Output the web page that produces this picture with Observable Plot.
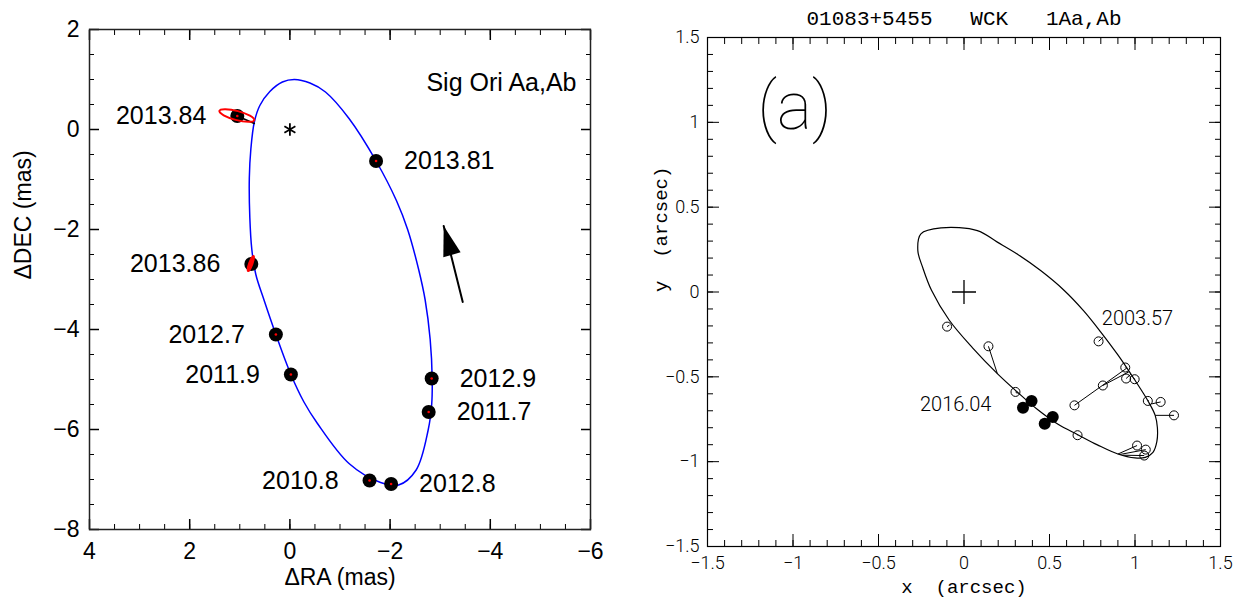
<!DOCTYPE html>
<html><head><meta charset="utf-8">
<script src="https://cdn.jsdelivr.net/npm/d3@7"></script>
<script src="https://cdn.jsdelivr.net/npm/@observablehq/plot@0.6"></script>
<style>
body{margin:0;background:#fff;}
#wrap{position:relative;width:1248px;height:598px;overflow:hidden;background:#fff;}
#left{position:absolute;left:0;top:0;}
#right{position:absolute;left:624px;top:0;}
</style></head><body>
<div id="wrap"><div id="left"></div><div id="right"></div></div>
<script>
// ---------- Left panel data: Sig Ori Aa,Ab ----------
const sigEpochs = ["2013.84","2013.81","2013.86","2012.7","2011.9","2012.9","2011.7","2010.8","2012.8"];
const sigRA  = [1.05, -1.72, 0.77, 0.28, -0.02, -2.83, -2.77, -1.59, -2.02];
const sigDEC = [0.27, -0.63, -2.69, -4.10, -4.90, -4.98, -5.65, -7.02, -7.09];
const sigLabelSide = ["left","right","left","left","left","right","right","left","right"];
const sigOrbitRA  = [-0.09,-0.40,-0.71,-1.18,-1.72,-2.13,-2.35,-2.57,-2.70,-2.80,-2.84,-2.83,-2.76,-2.52,-2.17,-1.81,-1.18,-0.55,-0.28,-0.02,0.28,0.52,0.68,0.76,0.80,0.81,0.78,0.71,0.60,0.40,0.15];
const sigOrbitDEC = [1.00,0.93,0.75,0.22,-0.63,-1.43,-2.00,-2.80,-3.41,-4.20,-4.98,-5.50,-6.01,-6.81,-7.11,-7.06,-6.68,-5.88,-5.45,-4.90,-4.10,-3.40,-2.90,-2.40,-1.76,-0.97,-0.40,0.15,0.48,0.76,0.95];
const sigResidRA  = [1.05, 0.71];
const sigResidDEC = [0.27, 0.12];
const arrowRA  = [-3.45, -3.07];
const arrowDEC = [-3.45, -1.93];
const sigXTicks = [4, 2, 0, -2, -4, -6];
const sigYTicks = [2, 0, -2, -4, -6, -8];
const sigXMinor = d3.range(4, -6.01, -0.5);
const sigYMinor = d3.range(-8, 2.01, 0.5);
const sigTitle = "Sig Ori Aa,Ab";

// error ellipses (index into sigEpochs, semi-axes px, rotation deg) – style only
const sigErr = [
  {i: 0, rx: 18, ry: 4.5, rot: 15, fill: "none"},
  {i: 2, rx: 1.6, ry: 8, rot: 20, fill: "red"}
];

// ---------- Right panel data: 01083+5455 WCK 1Aa,Ab ----------
const wckOrbitX = [-0.134,-0.252,-0.270,-0.240,-0.190,-0.087,0.050,0.195,0.310,0.430,0.550,0.665,0.780,0.900,1.000,1.060,1.105,1.128,1.131,1.118,1.077,0.995,0.900,0.800,0.700,0.580,0.450,0.313,0.195,0.078];
const wckOrbitY = [0.378,0.343,0.244,0.140,0.010,-0.165,-0.329,-0.481,-0.588,-0.693,-0.780,-0.841,-0.901,-0.955,-0.978,-0.975,-0.945,-0.880,-0.800,-0.727,-0.644,-0.513,-0.371,-0.236,-0.111,0.015,0.125,0.223,0.294,0.362];
const wckObsX  = [-0.099,0.143,0.301,0.664,0.646,0.812,0.943,0.948,0.998,0.787,1.075,1.150,1.228,1.012,1.063,1.054];
const wckObsY  = [-0.204,-0.320,-0.589,-0.844,-0.668,-0.551,-0.445,-0.510,-0.514,-0.291,-0.642,-0.648,-0.727,-0.905,-0.929,-0.964];
const wckPredX = [-0.085,0.195,0.312,0.664,0.950,0.965,0.950,0.975,0.990,0.815,1.080,1.095,1.118,0.900,0.910,0.930];
const wckPredY = [-0.195,-0.481,-0.598,-0.838,-0.450,-0.470,-0.452,-0.485,-0.505,-0.265,-0.640,-0.660,-0.727,-0.955,-0.958,-0.962];
const wckNewX = [0.345,0.395,0.472,0.519];
const wckNewY = [-0.682,-0.642,-0.777,-0.737];
const wckNotes = ["2003.57","2016.04"];
const wckNoteX = [0.806, 0.160];
const wckNoteY = [-0.158, -0.664];
const wckNoteAnchor = ["start","end"];
const wckTicks = [-1.5,-1,-0.5,0,0.5,1,1.5];
const wckMinor = d3.range(-15, 15.1, 1).map(v => v / 10);
const wckTitle = "01083+5455   WCK   1Aa,Ab";
const wckPanel = "(a)";

// ---------- helpers ----------
const FONT_L = "'Liberation Sans',Arial,sans-serif";
const FONT_MONO = "'Liberation Mono','Courier New',monospace";
const FONT_THIN = "Roboto,'DejaVu Sans',sans-serif";
const fmt = d3.format("~g");

const thinPlus = {draw(ctx, size){const r=Math.sqrt(size/Math.PI); ctx.moveTo(-r,0); ctx.lineTo(r,0); ctx.moveTo(0,-r); ctx.lineTo(0,r);}};
const headTri = {draw(ctx, size){const r=Math.sqrt(size/Math.PI); ctx.moveTo(0,0); ctx.lineTo(-0.3*r,r); ctx.lineTo(0.3*r,r); ctx.closePath();}};

const sigPts = sigEpochs.map((e,i)=>({e, ra: sigRA[i], dec: sigDEC[i], side: sigLabelSide[i]}));

function errMark(index, scales) {
  const g = d3.create("svg:g");
  for (const d of sigErr) {
    g.append("ellipse")
      .attr("transform", `translate(${scales.x(sigRA[d.i])},${scales.y(sigDEC[d.i])}) rotate(${d.rot})`)
      .attr("rx", d.rx).attr("ry", d.ry)
      .attr("fill", d.fill).attr("stroke", "red").attr("stroke-width", 2);
  }
  return g.node();
}

const left = Plot.plot({
  width: 624, height: 598,
  marginLeft: 89, marginRight: 34, marginTop: 29, marginBottom: 69,
  x: {domain: [4, -6]}, y: {domain: [-8, 2]},
  style: {fontFamily: FONT_L, fontSize: "22px", color: "black", background: "white"},
  marks: [
    Plot.axisX(sigXMinor, {anchor: "bottom", tickSize: -5, tickFormat: () => "", label: null}),
    Plot.axisX(sigXMinor, {anchor: "top", tickSize: -5, tickFormat: () => "", label: null}),
    Plot.axisY(sigYMinor, {anchor: "left", tickSize: -5, tickFormat: () => "", label: null}),
    Plot.axisY(sigYMinor, {anchor: "right", tickSize: -5, tickFormat: () => "", label: null}),
    Plot.axisX(sigXTicks, {anchor: "bottom", tickSize: -10, tickPadding: 23, tickFormat: fmt, label: null, fontSize: 23, strokeWidth: 1.5}),
    Plot.axisX(sigXTicks, {anchor: "top", tickSize: -10, tickFormat: () => "", label: null, strokeWidth: 1.5}),
    Plot.axisY(sigYTicks, {anchor: "left", tickSize: -10, tickPadding: 20, tickFormat: fmt, label: null, fontSize: 23, strokeWidth: 1.5}),
    Plot.axisY(sigYTicks, {anchor: "right", tickSize: -10, tickFormat: () => "", label: null, strokeWidth: 1.5}),
    Plot.frame({stroke: "#222", strokeWidth: 1.5}),
    Plot.line(sigOrbitRA.map((r,i)=>[r, sigOrbitDEC[i]]), {x: d=>d[0], y: d=>d[1], curve: "catmull-rom-closed", stroke: "#0000ff", strokeWidth: 1.5}),
    Plot.line(sigResidRA.map((r,i)=>[r, sigResidDEC[i]]), {x: d=>d[0], y: d=>d[1], stroke: "black", strokeWidth: 1.5}),
    Plot.dot(sigPts, {x: "ra", y: "dec", r: 7, fill: "black"}),
    Plot.dot(sigPts, {x: "ra", y: "dec", r: 1.3, fill: "red"}),
    errMark,
    Plot.dot([[0,0]], {x: d=>d[0], y: d=>d[1], symbol: "asterisk", r: 6, stroke: "black", strokeWidth: 1.8}),
    Plot.text(sigPts.filter(d => d.side === "left"), {x: "ra", y: "dec", text: "e", dx: -31, textAnchor: "end", fontSize: 25}),
    Plot.text(sigPts.filter(d => d.side === "right"), {x: "ra", y: "dec", text: "e", dx: 28, textAnchor: "start", fontSize: 25}),
    Plot.line(arrowRA.map((r,i)=>[r, arrowDEC[i]]), {x: d=>d[0], y: d=>d[1], stroke: "black", strokeWidth: 2}),
    Plot.dot([[arrowRA[1], arrowDEC[1]]], {x: d=>d[0], y: d=>d[1], symbol: headTri, r: 30, fill: "black", rotate: -16}),
    Plot.text([sigTitle], {text: d=>d, frameAnchor: "top-right", dx: -14, dy: 44, textAnchor: "end", fontSize: 25}),
    Plot.text(["ΔRA (mas)"], {text: d=>d, frameAnchor: "bottom", dy: 55, fontSize: 23}),
    Plot.text(["ΔDEC (mas)"], {text: d=>d, frameAnchor: "left", dx: -66, rotate: -90, fontSize: 23})
  ]
});
document.getElementById("left").appendChild(left);

const wckRes = wckObsX.map((x,i)=>({x1: x, y1: wckObsY[i], x2: wckPredX[i], y2: wckPredY[i]}));
const wckNoteRows = wckNotes.map((t,i)=>({t, x: wckNoteX[i], y: wckNoteY[i], a: wckNoteAnchor[i]}));
const right = Plot.plot({
  width: 624, height: 598,
  marginLeft: 83, marginRight: 28, marginTop: 37, marginBottom: 52,
  x: {domain: [-1.5, 1.5]}, y: {domain: [-1.5, 1.5]},
  style: {fontFamily: FONT_THIN, fontSize: "18px", color: "black", background: "white"},
  marks: [
    Plot.axisX(wckMinor, {anchor: "bottom", tickSize: -6, tickFormat: () => "", label: null}),
    Plot.axisX(wckMinor, {anchor: "top", tickSize: -6, tickFormat: () => "", label: null}),
    Plot.axisY(wckMinor, {anchor: "left", tickSize: -6, tickFormat: () => "", label: null}),
    Plot.axisY(wckMinor, {anchor: "right", tickSize: -6, tickFormat: () => "", label: null}),
    Plot.axisX(wckTicks, {anchor: "bottom", tickSize: -12, tickPadding: 22, tickFormat: fmt, label: null, fontSize: 18, fontWeight: 300}),
    Plot.axisX(wckTicks, {anchor: "top", tickSize: -12, tickFormat: () => "", label: null}),
    Plot.axisY(wckTicks, {anchor: "left", tickSize: -12, tickPadding: 20, tickFormat: fmt, label: null, fontSize: 18, fontWeight: 300}),
    Plot.axisY(wckTicks, {anchor: "right", tickSize: -12, tickFormat: () => "", label: null}),
    Plot.frame({stroke: "black", strokeWidth: 1.2}),
    Plot.line(wckOrbitX.map((x,i)=>[x, wckOrbitY[i]]), {x: d=>d[0], y: d=>d[1], curve: "catmull-rom-closed", stroke: "black", strokeWidth: 1.2}),
    Plot.link(wckRes, {x1: "x1", y1: "y1", x2: "x2", y2: "y2", stroke: "black", strokeWidth: 1}),
    Plot.dot(wckObsX.map((x,i)=>[x, wckObsY[i]]), {x: d=>d[0], y: d=>d[1], r: 4.5, stroke: "black", strokeWidth: 1, fill: "none"}),
    Plot.dot(wckNewX.map((x,i)=>[x, wckNewY[i]]), {x: d=>d[0], y: d=>d[1], r: 6, fill: "black"}),
    Plot.dot([[0,0]], {x: d=>d[0], y: d=>d[1], symbol: thinPlus, r: 12, stroke: "black", strokeWidth: 1.3}),
    Plot.text(wckNoteRows.filter(d => d.a === "start"), {x: "x", y: "y", text: "t", textAnchor: "start", fontSize: 20, fontWeight: 300}),
    Plot.text(wckNoteRows.filter(d => d.a === "end"), {x: "x", y: "y", text: "t", textAnchor: "end", fontSize: 20, fontWeight: 300}),
    Plot.text([wckPanel], {text: d=>d, frameAnchor: "top-left", dx: 50, dy: 45, textAnchor: "start", fontSize: 66, fontWeight: 100}),
    Plot.text([wckTitle], {text: d=>d, frameAnchor: "top", dy: -27, fontFamily: FONT_MONO, fontSize: 21}),
    Plot.text(["x  (arcsec)"], {text: d=>d, frameAnchor: "bottom", dy: 46, fontFamily: FONT_MONO, fontSize: 19}),
    Plot.text(["y  (arcsec)"], {text: d=>d, frameAnchor: "left", dx: -47, rotate: -90, fontFamily: FONT_MONO, fontSize: 19})
  ]
});
document.getElementById("right").appendChild(right);
</script>
</body></html>
